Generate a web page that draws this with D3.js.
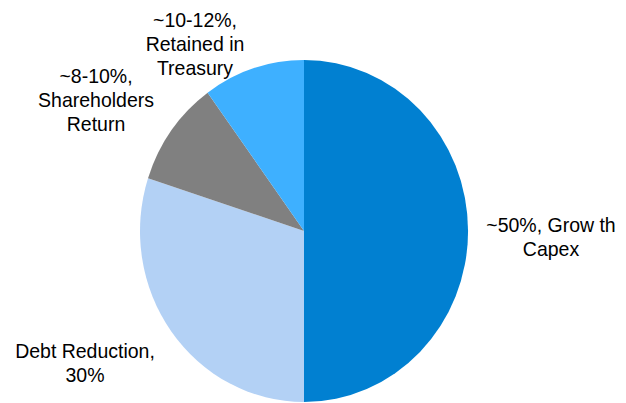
<!DOCTYPE html>
<html>
<head>
<meta charset="utf-8">
<script src="https://cdn.jsdelivr.net/npm/d3@7"></script>
<style>
  html, body { margin: 0; padding: 0; background: #fff; }
  svg { display: block; }
  text { font-family: "Liberation Sans", Arial, sans-serif; font-size: 19.5px; fill: #000; }
</style>
</head>
<body>
<svg id="chart" width="626" height="403"></svg>
<script>
// Use of funds split, clockwise from 12 o'clock
const categories = ["Growth Capex", "Debt Reduction", "Shareholders Return", "Retained in Treasury"];
const shares = [50, 30, 10, 10];
const colors = ["#0180D1", "#B3D1F5", "#808080", "#3EB0FF"];

// Label text, one entry per line
const labelLines = [
  ["~50%, Grow th", "Capex"],
  ["Debt Reduction,", "30%"],
  ["~8-10%,", "Shareholders", "Return"],
  ["~10-12%,", "Retained in", "Treasury"]
];

const svg = d3.select("#chart");
const cx = 304, cy = 231, rx = 164, ry = 171;

const pie = d3.pie().sort(null).value(d => d)(shares);
const arc = d3.arc().innerRadius(0).outerRadius(rx);

// Pie is drawn slightly taller than wide
const g = svg.append("g")
  .attr("transform", `translate(${cx},${cy}) scale(1,${ry / rx})`);

g.selectAll("path")
  .data(pie)
  .join("path")
  .attr("d", arc)
  .attr("fill", (d, i) => colors[i]);

// Label anchor points (centre x, first baseline y) and line spacing
const labelPos = [
  { x: 551, y: 232 },
  { x: 85, y: 358 },
  { x: 96, y: 83 },
  { x: 195, y: 27 }
];
const lineH = 24;
const textStretch = 1.08;

labelLines.forEach((lines, i) => {
  const t = svg.append("text")
    .attr("text-anchor", "middle")
    .attr("transform", `translate(${labelPos[i].x},${labelPos[i].y}) scale(1,${textStretch})`);
  lines.forEach((ln, j) => {
    t.append("tspan")
      .attr("x", 0)
      .attr("y", j * lineH / textStretch)
      .text(ln);
  });
});
</script>
</body>
</html>
